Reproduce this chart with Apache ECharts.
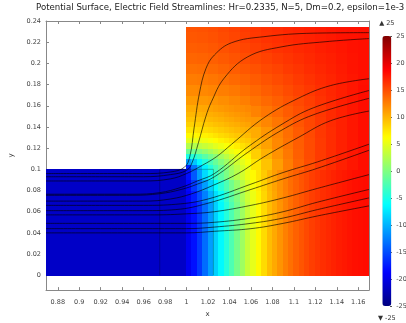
<!DOCTYPE html>
<html><head><meta charset="utf-8">
<script src="https://cdn.jsdelivr.net/npm/echarts@6/dist/echarts.min.js"></script>
<style>html,body{margin:0;padding:0;background:#fff}#c{width:406px;height:323px}</style>
</head><body><div id="c"></div>
<script>
// ---- tick labels ----
const xTicks = [0.88,0.9,0.92,0.94,0.96,0.98,1,1.02,1.04,1.06,1.08,1.1,1.12,1.14,1.16];
const yTicks = [0,0.02,0.04,0.06,0.08,0.1,0.12,0.14,0.16,0.18,0.2,0.22,0.24];
const titleText = 'Potential Surface, Electric Field Streamlines: Hr=0.2335, N=5, Dm=0.2, epsilon=1e-3';

// ---- potential surface values ----
const leftRegionX = [0.869, 1.0];
const leftRegionY = [0, 0.1];
const leftRegionValue = -21.5;

// lower channel right of x=1: columns 0.005 wide from x=1.0 to 1.17
const lowYEdges = [0, 0.07, 0.08, 0.09, 0.1];
const lowValues = [
  [-19.5,-18,-16,-13.5,-11,-8.5,-6.5,-4.5,-2.5,-0.5,1.5,3.5,5,6.5,8,9.5,10.5,11.5,12.5,13.3,14,14.6,15.2,15.7,16.1,16.5,16.8,17.1,17.4,17.6,17.8,18,18.1,18.2],
  [-19,-17.3,-15,-12.5,-10,-7.8,-5.8,-3.8,-1.8,0,2,3.8,5.3,6.8,8.2,9.6,10.6,11.6,12.5,13.3,14,14.6,15.2,15.7,16.1,16.5,16.8,17.1,17.4,17.6,17.8,18,18.1,18.2],
  [-18.5,-16,-13.5,-11,-8.5,-6.3,-4.3,-2.5,-0.7,1,2.8,4.4,5.8,7.1,8.5,9.8,10.8,11.7,12.6,13.4,14,14.6,15.2,15.7,16.1,16.5,16.8,17.1,17.4,17.6,17.8,18,18.1,18.2],
  [-18,-14.5,-11,-8,-5.5,-3.5,-1.8,-0.2,1.3,2.7,4,5.3,6.5,7.6,8.8,10,11,11.9,12.7,13.5,14.1,14.7,15.2,15.7,16.1,16.5,16.8,17.1,17.4,17.6,17.8,18,18.1,18.2]
];
// upper part (x 1..1.17, y 0.1..0.2335): columns 0.01 wide
const upYEdges = [0.1,0.11,0.12,0.13,0.14,0.15,0.16,0.17,0.18,0.19,0.2,0.21,0.22,0.23,0.2335];
const upValues = [
  [-13,-7,-2.5,1,3.8,6,7.5,9.2,11,12.6,13.9,15,15.9,16.6,17.2,17.7,18.1],
  [-3,-1.5,0.8,3.5,5.5,7.2,8.6,10.1,11.6,12.9,14.1,15.1,15.9,16.6,17.2,17.7,18.1],
  [3.5,3.2,5,6.3,7.4,8.5,9.7,10.9,12.1,13.2,14.2,15.1,15.9,16.6,17.2,17.7,18.1],
  [7,7,7.4,8,8.7,9.5,10.4,11.4,12.4,13.4,14.3,15.2,16,16.6,17.2,17.7,18.1],
  [8.8,8.9,9.2,9.6,10.1,10.7,11.4,12.2,13,13.8,14.6,15.3,16,16.7,17.2,17.7,18.1],
  [10.2,10.3,10.5,10.9,11.3,11.8,12.4,13,13.6,14.3,14.9,15.5,16.1,16.7,17.2,17.7,18.1],
  [11.2,11.3,11.5,11.8,12.2,12.6,13.1,13.6,14.1,14.7,15.2,15.7,16.3,16.8,17.3,17.7,18.1],
  [12,12.1,12.3,12.6,12.9,13.3,13.7,14.2,14.6,15.1,15.6,16,16.5,16.9,17.3,17.7,18.1],
  [12.7,12.8,13,13.3,13.6,13.9,14.3,14.7,15.1,15.5,15.9,16.3,16.7,17,17.4,17.7,18],
  [13.3,13.4,13.6,13.9,14.2,14.5,14.8,15.2,15.5,15.9,16.2,16.6,16.9,17.2,17.5,17.8,18],
  [13.8,13.9,14.1,14.4,14.7,15,15.3,15.6,15.9,16.2,16.5,16.8,17.1,17.3,17.6,17.8,18],
  [14.2,14.3,14.5,14.8,15.1,15.4,15.7,16,16.3,16.5,16.8,17,17.3,17.5,17.7,17.9,18],
  [14.5,14.6,14.8,15.1,15.4,15.7,16,16.3,16.5,16.8,17,17.2,17.4,17.6,17.8,17.9,18],
  [14.7,14.8,15,15.3,15.6,15.9,16.1,16.4,16.6,16.9,17.1,17.3,17.5,17.7,17.8,17.9,18]
];
// finer detail near the inner corner (x 1..1.06, y 0.1..0.16): cells 0.005 wide
const cornerX = [1.0, 1.06];
const cornerY = [0.1, 0.16];
const cornerValues = [
  [-17,-13,-9.5,-6.8,-4.6,-2.8,-1.1,0.4,1.8,3.1,4.3,5.4],
  [-11,-9,-6.5,-4.5,-2.8,-1.2,0.2,1.5,2.8,3.9,4.9,5.9],
  [-5,-4.5,-3.2,-1.9,-0.6,0.6,1.8,2.9,3.9,4.9,5.8,6.6],
  [-1,-0.8,0,0.9,1.8,2.7,3.6,4.5,5.3,6,6.7,7.4],
  [2.5,2.5,3,3.5,4.1,4.8,5.4,6,6.6,7.1,7.7,8.2],
  [5,5,5.2,5.5,5.9,6.4,6.9,7.3,7.8,8.2,8.6,8.9],
  [6.5,6.5,6.7,6.9,7.2,7.6,8,8.3,8.7,9,9.3,9.6],
  [7.6,7.6,7.8,8,8.2,8.5,8.8,9.1,9.4,9.7,10,10.2],
  [8.5,8.5,8.6,8.8,9,9.3,9.5,9.8,10.1,10.3,10.6,10.8],
  [9.2,9.2,9.3,9.5,9.7,9.9,10.1,10.4,10.6,10.9,11.1,11.3],
  [9.8,9.8,9.9,10.1,10.2,10.4,10.6,10.9,11.1,11.3,11.5,11.7],
  [10.4,10.4,10.5,10.6,10.8,11,11.2,11.4,11.6,11.8,11.9,12.1]
];
const rightX0 = 1.0, rightX1 = 1.17;

// ---- streamlines ----
const streamA = [[0.869,0.096],[0.96,0.096],[0.985,0.0975],[0.998,0.102],[1.003,0.112],[1.007,0.139],[1.012,0.172],[1.018,0.195],[1.026,0.208],[1.042,0.2195],[1.072,0.2252],[1.118,0.2285],[1.17,0.229]];
const streamB = [[0.869,0.093],[0.96,0.093],[0.985,0.095],[1.0,0.099],[1.005,0.106],[1.011,0.125],[1.018,0.15],[1.0233,0.164],[1.035,0.186],[1.057,0.2062],[1.088,0.2155],[1.13,0.2205],[1.17,0.2234]];
const streamC = [[0.869,0.089],[0.96,0.089],[0.985,0.091],[1.0,0.096],[1.015,0.104],[1.028,0.112],[1.042,0.1237],[1.072,0.1486],[1.104,0.167],[1.134,0.179],[1.17,0.1855]];
const streamD = [[0.869,0.0765],[0.95,0.0765],[0.975,0.078],[0.995,0.083],[1.01,0.089],[1.026,0.096],[1.057,0.121],[1.088,0.142],[1.118,0.158],[1.17,0.1744]];
const streamE = [[0.869,0.0755],[0.95,0.0755],[0.975,0.077],[0.995,0.081],[1.01,0.086],[1.026,0.093],[1.057,0.116],[1.088,0.1366],[1.118,0.1514],[1.17,0.167]];
const streamF = [[0.869,0.070],[0.96,0.070],[0.985,0.072],[1.005,0.077],[1.025,0.085],[1.048,0.096],[1.072,0.1117],[1.104,0.130],[1.134,0.1458],[1.17,0.155]];
const streamG = [[0.869,0.066],[0.96,0.066],[0.99,0.067],[1.02,0.072],[1.06,0.086],[1.09,0.097],[1.122,0.107],[1.17,0.1237]];
const streamH = [[0.869,0.061],[0.96,0.061],[0.99,0.062],[1.02,0.068],[1.06,0.081],[1.09,0.091],[1.122,0.101],[1.17,0.118]];
const streamI = [[0.869,0.057],[0.97,0.057],[1.0,0.058],[1.026,0.060],[1.06,0.066],[1.09,0.073],[1.122,0.082],[1.17,0.095]];
const streamJ = [[0.869,0.049],[0.97,0.049],[1.0,0.049],[1.026,0.050],[1.06,0.054],[1.09,0.060],[1.122,0.069],[1.17,0.081]];
const streamK = [[0.869,0.044],[1.0,0.044],[1.026,0.0455],[1.06,0.049],[1.09,0.054],[1.122,0.062],[1.17,0.073]];
const streamL = [[0.869,0.040],[1.0,0.040],[1.026,0.0415],[1.06,0.044],[1.09,0.049],[1.122,0.056],[1.17,0.0655]];
const streamlines = [streamA,streamB,streamC,streamD,streamE,streamF,streamG,streamH,streamI,streamJ,streamK,streamL];

// subdomain outline
const boxX = [0.975, 1.025];
const boxY = [0, 0.1];

// ---- build cells ----
function edges(a, b, n) { const e = []; for (let i = 0; i <= n; i++) e.push(+(a + (b - a) * i / n).toFixed(6)); return e; }
const cells = [];
cells.push([leftRegionX[0], leftRegionX[1], leftRegionY[0], leftRegionY[1], leftRegionValue]);
const lowXE = edges(rightX0, rightX1, lowValues[0].length);
lowValues.forEach((row, r) => row.forEach((v, c) => cells.push([lowXE[c], lowXE[c+1], lowYEdges[r], lowYEdges[r+1], v])));
const upXE = edges(rightX0, rightX1, upValues[0].length);
upValues.forEach((row, r) => row.forEach((v, c) => cells.push([upXE[c], upXE[c+1], upYEdges[r], upYEdges[r+1], v])));
const cXE = edges(cornerX[0], cornerX[1], cornerValues[0].length);
const cYE = edges(cornerY[0], cornerY[1], cornerValues.length);
cornerValues.forEach((row, r) => row.forEach((v, c) => cells.push([cXE[c], cXE[c+1], cYE[r], cYE[r+1], v])));

const jet = ['#000080','#0000ff','#0080ff','#00ffff','#80ff80','#ffff00','#ff8000','#ff0000','#800000'];
const FONT = 'DejaVu Sans';

function renderCell(params, api) {
  const p0 = api.coord([api.value(0), api.value(3)]);
  const p1 = api.coord([api.value(1), api.value(2)]);
  const x = Math.floor(p0[0]), y = Math.floor(p0[1]);
  return { type: 'rect', shape: { x: x, y: y, width: Math.ceil(p1[0]) - x, height: Math.ceil(p1[1]) - y },
           style: { fill: api.visual('color') } };
}

const axisCommon = {
  type: 'value', splitLine: { show: false },
  axisLine: { show: true, onZero: false, lineStyle: { color: '#888', width: 1 } }
};

const series = [{
  type: 'custom', renderItem: renderCell, data: cells,
  dimensions: ['x0','x1','y0','y1','v'],
  encode: { x: [0,1], y: [2,3] }, silent: true, z: 1
}];
streamlines.forEach(s => series.push({
  type: 'line', data: s, showSymbol: false, smooth: 0.4, silent: true, z: 3,
  lineStyle: { color: '#000', width: 1, opacity: 0.62 }
}));
series.push({
  type: 'line', silent: true, showSymbol: false, z: 2,
  data: [[boxX[0], boxY[0]], [boxX[0], boxY[1]], [boxX[1], boxY[1]], [boxX[1], boxY[0]]],
  lineStyle: { color: '#000', width: 0.8, opacity: 0.35 }
});
series.push({ type: 'line', xAxisIndex: 2, yAxisIndex: 2, data: [], silent: true });

const chart = echarts.init(document.getElementById('c'), null, { renderer: 'canvas' });
chart.setOption({
  animation: false,
  backgroundColor: '#fff',
  title: { text: titleText, left: 31, top: -2, itemGap: 0,
    textStyle: { fontFamily: FONT, fontSize: 8.6, fontWeight: 'normal', color: '#222' } },
  grid: [
    { left: 44, top: 21, width: 325, height: 275 },
    { left: 392, top: 36, width: 1, height: 270 }
  ],
  xAxis: [
    Object.assign({}, axisCommon, { min: 0.869, max: 1.17, position: 'bottom',
      name: 'x', nameLocation: 'middle', nameGap: 16,
      nameTextStyle: { fontFamily: FONT, fontSize: 7, color: '#333' },
      axisTick: { inside: true, length: 3, customValues: xTicks, lineStyle: { color: '#888' } },
      axisLabel: { customValues: xTicks, fontFamily: FONT, fontSize: 6.5, color: '#444', margin: 9 } }),
    Object.assign({}, axisCommon, { min: 0.869, max: 1.17, position: 'top',
      axisTick: { inside: true, length: 3, customValues: xTicks, lineStyle: { color: '#888' } },
      axisLabel: { show: false } }),
    { type: 'value', gridIndex: 1, show: false, min: 0, max: 1 }
  ],
  yAxis: [
    Object.assign({}, axisCommon, { min: -0.014, max: 0.24, position: 'left',
      name: 'y', nameLocation: 'middle', nameGap: 31,
      nameTextStyle: { fontFamily: FONT, fontSize: 7, color: '#333' },
      axisTick: { inside: true, length: 3, customValues: yTicks, lineStyle: { color: '#888' } },
      axisLabel: { customValues: yTicks, fontFamily: FONT, fontSize: 6.5, color: '#444', margin: 5 } }),
    Object.assign({}, axisCommon, { min: -0.014, max: 0.24, position: 'right',
      axisTick: { inside: true, length: 3, customValues: yTicks, lineStyle: { color: '#888' } },
      axisLabel: { show: false } }),
    { type: 'value', gridIndex: 1, min: -25, max: 25, interval: 5, position: 'right',
      splitLine: { show: false }, axisLine: { show: false },
      axisTick: { show: true, inside: true, length: 2, lineStyle: { color: '#555' } },
      axisLabel: { fontFamily: FONT, fontSize: 6.5, color: '#444', margin: 4 } }
  ],
  visualMap: {
    type: 'continuous', min: -25, max: 25, dimension: 4, seriesIndex: 0,
    calculable: false, hoverLink: false, orient: 'vertical', align: 'left', padding: 0,
    left: 378, top: 20, itemWidth: 9, itemHeight: 270,
    text: ['\u25B2 25', '\u25BC -25'], textGap: 9,
    textStyle: { fontFamily: FONT, fontSize: 6.5, color: '#333' },
    inRange: { color: jet }
  },
  series: series
});
</script></body></html>
